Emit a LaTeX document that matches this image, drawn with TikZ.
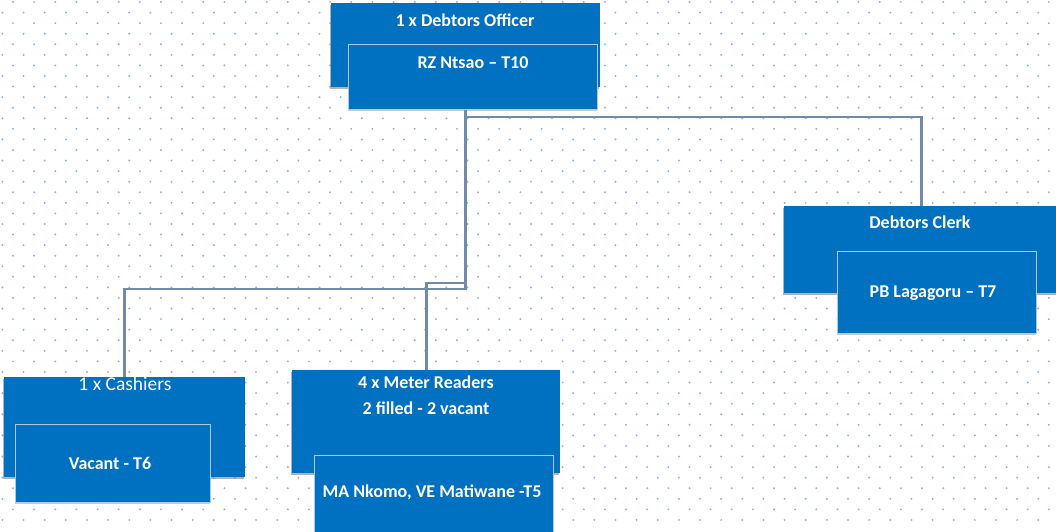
\documentclass[tikz,border=0pt]{standalone}
\usepackage{fontspec}
\setmainfont{Carlito}
\usetikzlibrary{shadows}
\definecolor{orgblue}{HTML}{0070C0}
\definecolor{linkgrey}{RGB}{112,138,168}
\definecolor{dotblue}{RGB}{150,180,215}
\definecolor{edgeblue}{RGB}{170,200,232}

\begin{document}
\begin{tikzpicture}[x=1pt, y=-1pt,
  outerbox/.style={rectangle, fill=orgblue, anchor=north west, inner sep=0pt,
    drop shadow={shadow xshift=-1.2pt, shadow yshift=-1.8pt, opacity=.6}},
  innerbox/.style={rectangle, fill=orgblue, draw=edgeblue, line width=1pt, anchor=north west, inner sep=0pt,
    drop shadow={shadow xshift=-1pt, shadow yshift=-1.5pt, opacity=.4}},
  boxtext/.style={text=white, align=center, inner sep=0pt, font=\fontsize{18}{26}\selectfont\bfseries},
  conn/.style={draw=linkgrey, line width=2.6pt},
  ]

\useasboundingbox (0,0) rectangle (1056,531);
\clip (0,0) rectangle (1056,531);
\fill[white] (0,0) rectangle (1056,531);

% dotted background
\foreach \r in {0,...,24}
  \foreach \c in {0,...,49} {
    \fill[dotblue] (13+21.14*\c, 2+21.14*\r) circle (1.1pt);
    \fill[dotblue] (2.4+21.14*\c, 12.6+21.14*\r) circle (1.1pt);
  }

% boxes
\node[outerbox, minimum width=269, minimum height=84] (officer) at (331,3) {};
\node[innerbox, minimum width=249, minimum height=65] (ntsao) at (348,44) {};
\node[outerbox, minimum width=274, minimum height=87] (clerk) at (784,206) {};
\node[innerbox, minimum width=199, minimum height=82] (lagagoru) at (837,251) {};
\node[outerbox, minimum width=241, minimum height=100] (cashiers) at (4,377) {};
\node[innerbox, minimum width=195, minimum height=78] (vacant) at (15,424) {};
\node[outerbox, minimum width=268, minimum height=103] (readers) at (292,370) {};
\node[innerbox, minimum width=239, minimum height=90] (names) at (314,455) {};

% texts
\node[boxtext] (officerT) at (465,20) {1 x Debtors Officer};
\node[boxtext] (ntsaoT) at (473,63) {RZ Ntsao – T10};
\node[boxtext] (clerkT) at (920,222) {Debtors Clerk};
\node[boxtext] (lagagoruT) at (933,293) {PB Lagagoru – T7};
\node[boxtext, font=\fontsize{19.5}{24}\selectfont] (cashiersT) at (125,384) {1 x Cashiers};
\node[boxtext] (vacantT) at (110,463) {Vacant - T6};
\node[boxtext] (readersT) at (426,395) {4 x Meter Readers\\2 filled - 2 vacant};
\node[boxtext] (namesT) at (432,492) {MA Nkomo, VE Matiwane -T5};

% connectors
\coordinate (drop) at (officer.center |- ntsao.south);
\draw[conn] (drop) |- (cashiers.north |- 0,289) -- (cashiers.north);
\draw[conn] (drop) |- (readers.north |- 0,283) -- (readers.north);
\draw[conn] (drop) |- (clerk.north |- 0,117) -- (clerk.north);

\end{tikzpicture}
\end{document}
